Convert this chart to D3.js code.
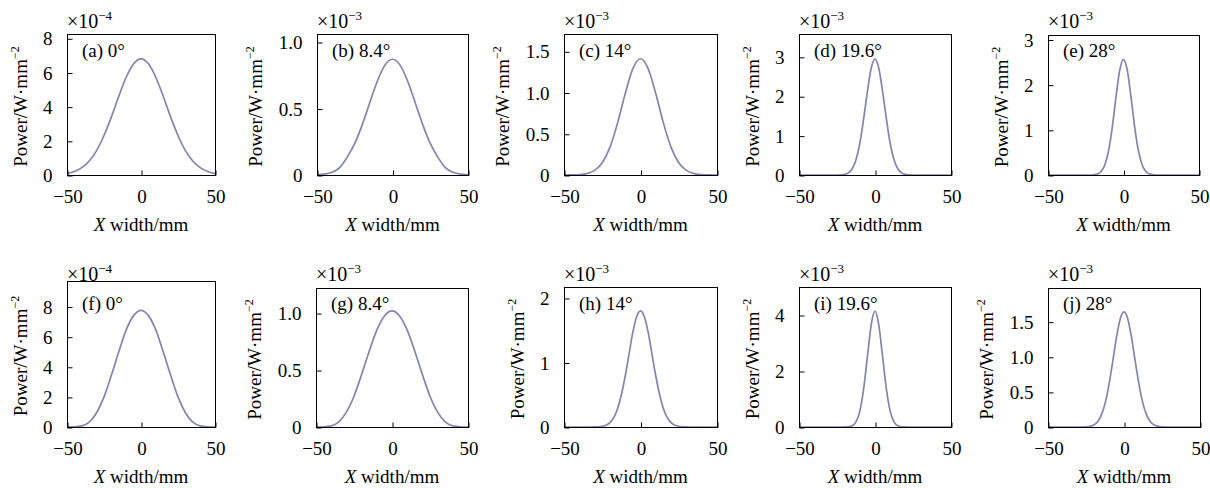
<!DOCTYPE html>
<html>
<head>
<meta charset="utf-8">
<script src="https://cdn.jsdelivr.net/npm/d3@7"></script>
<style>
  body { margin: 0; background: #fff; }
  text { font-family: "Liberation Serif", "Times New Roman", serif; fill: #000; }
</style>
</head>
<body>
<svg id="main"></svg>
<script>
//--------data----------
const panelLabels = ['(a) 0°', '(b) 8.4°', '(c) 14°', '(d) 19.6°', '(e) 28°',
  '(f) 0°', '(g) 8.4°', '(h) 14°', '(i) 19.6°', '(j) 28°'];
const exponents = [-4, -3, -3, -3, -3, -4, -3, -3, -3, -3];
const yMax = [8.25, 1.06, 1.71, 3.58, 3.1, 9.7, 1.22, 2.17, 5.0, 1.98];
const yTicks = [
  [0, 2, 4, 6, 8], [0, 0.5, 1.0], [0, 0.5, 1.0, 1.5], [0, 1, 2, 3], [0, 1, 2, 3],
  [0, 2, 4, 6, 8], [0, 0.5, 1.0], [0, 1, 2], [0, 2, 4], [0, 0.5, 1.0, 1.5]
];
const xTicks = [-50, 0, 50];

// x samples (mm)
const xWide = [-50,-45,-40,-35,-30,-25,-20,-15,-10,-5,0,5,10,15,20,25,30,35,40,45,50];
const xFine = [-50,-47.5,-45,-42.5,-40,-37.5,-35,-32.5,-30,-27.5,-25,-22.5,-20,-17.5,-15,-12.5,-10,-7.5,-5,-2.5,
  0,2.5,5,7.5,10,12.5,15,17.5,20,22.5,25,27.5,30,32.5,35,37.5,40,42.5,45,47.5,50];

// power values (in units of 10^exponent)
const powerA = [0.09,0.20,0.43,0.82,1.43,2.31,3.40,4.61,5.72,6.51,6.80,6.51,5.72,4.61,3.40,2.31,1.43,0.82,0.43,0.20,0.09];
const powerB = [0.002,0.006,0.020,0.055,0.134,0.237,0.379,0.545,0.707,0.826,0.870,0.826,0.707,0.545,0.379,0.237,0.134,0.055,0.020,0.006,0.002];
const powerC = [0,0.001,0.005,0.017,0.056,0.149,0.335,0.629,0.985,1.289,1.410,1.289,0.985,0.629,0.335,0.149,0.056,0.017,0.005,0.001,0];
const powerD = [0,0,0,0,0,0,0,0,0,0,0, 0.004,0.016,0.055,0.158,0.386,0.80,1.42,2.12,2.71,
  2.94, 2.71,2.12,1.42,0.80,0.386,0.158,0.055,0.016,0.004, 0,0,0,0,0,0,0,0,0,0,0];
const powerE = [0,0,0,0,0,0,0,0,0,0,0,0, 0.004,0.019,0.071,0.212,0.52,1.04,1.72,2.32,
  2.56, 2.32,1.72,1.04,0.52,0.212,0.071,0.019,0.004, 0,0,0,0,0,0,0,0,0,0,0,0];
const powerF = [0,0.01,0.07,0.32,0.95,2.00,3.45,5.00,6.45,7.40,7.75,7.40,6.45,5.00,3.45,2.00,0.95,0.32,0.07,0.01,0];
const powerG = [0,0.002,0.010,0.045,0.130,0.270,0.460,0.665,0.850,0.975,1.020,0.975,0.850,0.665,0.460,0.270,0.130,0.045,0.010,0.002,0];
const powerH = [0,0,0,0,0,0,0,0, 0.001,0.003,0.011,0.028,0.067,0.145,0.283,0.50,0.79,1.13,1.47,1.71,
  1.80, 1.71,1.47,1.13,0.79,0.50,0.283,0.145,0.067,0.028,0.011,0.003,0.001, 0,0,0,0,0,0,0,0];
const powerI = [0,0,0,0,0,0,0,0,0,0,0,0, 0.001,0.009,0.046,0.18,0.56,1.35,2.51,3.65,
  4.14, 3.65,2.51,1.35,0.56,0.18,0.046,0.009,0.001, 0,0,0,0,0,0,0,0,0,0,0,0];
const powerJ = [0,0,0,0,0,0,0,0,0,0, 0.002,0.009,0.028,0.072,0.165,0.333,0.59,0.92,1.27,1.54,
  1.64, 1.54,1.27,0.92,0.59,0.333,0.165,0.072,0.028,0.009,0.002, 0,0,0,0,0,0,0,0,0,0];

const series = [
  [xWide, powerA], [xWide, powerB], [xWide, powerC], [xFine, powerD], [xFine, powerE],
  [xWide, powerF], [xWide, powerG], [xFine, powerH], [xFine, powerI], [xFine, powerJ]
];

//--------layout----------
const frameLeft = [67, 317, 564, 799, 1048, 67, 316, 564, 799, 1048];
const frameRight = [215, 468, 717, 951, 1199, 215, 468, 717, 951, 1200];
const frameTop = [34, 34, 34, 34, 35, 281, 288, 287, 287, 288];
const rowTop = [34, 287];
const rowBottom = [175, 427];
const lineColor = '#8285ad';
const fontSize = 19;

//--------code----------
main();

function main(){
  let svg = d3.select('#main')
  .attr('width', 1210)
  .attr('height', 488);

  for(let i=0; i<10; i++){
    drawPanel(svg, i);
  }
}

function drawPanel(svg, i){
  let row = i < 5 ? 0 : 1;
  let [xs, ys] = series[i];
  let pts = xs.map((x, k)=>({x: x, y: ys[k]}));

  let sx = d3.scaleLinear().domain([-50, 50]).range([frameLeft[i], frameRight[i]]);
  let sy = d3.scaleLinear().domain([0, yMax[i]]).range([rowBottom[row], frameTop[i]]);

  let g = svg.append('g').attr('class', 'panel');

  //curve
  let line = d3.line()
  .x(d=>sx(d.x))
  .y(d=>sy(d.y))
  .curve(d3.curveMonotoneX);
  g.append('path')
  .datum(pts)
  .attr('d', line)
  .attr('fill', 'none')
  .attr('stroke', lineColor)
  .attr('stroke-width', 1.7);

  //frame
  g.append('rect')
  .attr('x', frameLeft[i] + 0.5)
  .attr('y', frameTop[i] + 0.5)
  .attr('width', frameRight[i] - frameLeft[i])
  .attr('height', rowBottom[row] - frameTop[i])
  .attr('fill', 'none')
  .attr('stroke', '#000')
  .attr('stroke-width', 1);

  //axes, ticks pointing inward
  let step = yTicks[i][1] - yTicks[i][0];
  let fmt = d=>d === 0 ? '0' : (step < 1 ? d.toFixed(1) : String(d));
  let ay = d3.axisLeft(sy)
  .tickValues(yTicks[i])
  .tickFormat(fmt)
  .tickSizeInner(-5)
  .tickSizeOuter(0)
  .tickPadding(15);
  let gy = g.append('g')
  .attr('transform', `translate(${frameLeft[i] + 0.5},0.5)`)
  .call(ay);
  gy.select('.domain').remove();

  let ax = d3.axisBottom(sx)
  .tickValues(xTicks)
  .tickFormat(d=>d < 0 ? '\u2212' + Math.abs(d) : String(d))
  .tickSizeInner(-5)
  .tickSizeOuter(0)
  .tickPadding(14);
  let gx = g.append('g')
  .attr('transform', `translate(0.5,${rowBottom[row] + 0.5})`)
  .call(ax);
  gx.select('.domain').remove();

  g.selectAll('.tick line').attr('stroke', '#000');
  g.selectAll('.tick text')
  .attr('font-family', '"Liberation Serif", "Times New Roman", serif')
  .attr('font-size', fontSize)
  .attr('fill', '#000');

  //ylabel, placed left of the widest tick label
  let tw = d3.max(gy.selectAll('.tick text').nodes(), n=>n.getComputedTextLength());
  let yl = g.append('text')
  .attr('transform', `translate(${frameLeft[i] - tw - 31},${(frameTop[i] + rowBottom[row])/2 + 2}) rotate(-90)`)
  .attr('text-anchor', 'middle')
  .attr('font-size', fontSize);
  yl.append('tspan').text('Power/W\u00b7mm');
  yl.append('tspan').attr('dy', -8).attr('font-size', 12).text('\u22122');

  //xlabel
  let xl = g.append('text')
  .attr('x', (frameLeft[i] + frameRight[i])/2)
  .attr('y', rowBottom[row] + 56)
  .attr('text-anchor', 'middle')
  .attr('font-size', fontSize);
  xl.append('tspan').attr('font-style', 'italic').text('X');
  xl.append('tspan').text(' width/mm');

  //exponent
  let ex = g.append('text')
  .attr('x', frameLeft[i])
  .attr('y', rowTop[row] - 6)
  .attr('font-size', 20);
  ex.append('tspan').text('\u00d710');
  ex.append('tspan').attr('dy', -8).attr('font-size', 13).text('\u2212' + Math.abs(exponents[i]));

  //panel label
  g.append('text')
  .attr('x', frameLeft[i] + 15)
  .attr('y', rowTop[row] + 23)
  .attr('font-size', fontSize)
  .text(panelLabels[i]);
}
</script>
</body>
</html>
